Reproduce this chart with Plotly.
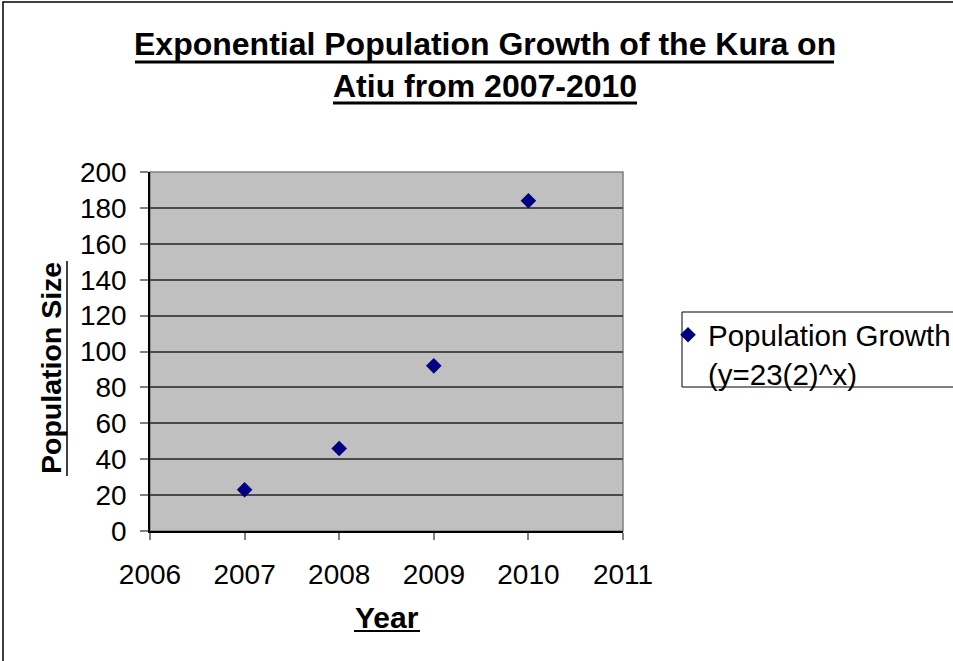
import plotly.graph_objects as go

# ---- data ----
years = [2007, 2008, 2009, 2010]
population = [23, 46, 92, 184]
series_name = "Population Growth<br>(y=23(2)^x)"
title_line1 = "Exponential Population Growth of the Kura on"
title_line2 = "Atiu from 2007-2010"
x_title = "Year"
y_title = "Population Size"

W, H = 953, 661
L, R, T, B = 150, 623, 172, 531  # plot area in pixels


def px(x):
    return (x - L) / (R - L)


def py(y):
    return (B - y) / (B - T)


fig = go.Figure()
fig.add_trace(go.Scatter(
    x=years, y=population, mode="markers", name=series_name,
    marker=dict(symbol="diamond", size=12, color="#000080"),
    showlegend=True,
))

font = "Liberation Sans, Arial, sans-serif"

fig.update_layout(
    width=W, height=H,
    margin=dict(l=L, r=W - R, t=T, b=H - B, pad=0, autoexpand=False),
    paper_bgcolor="white",
    plot_bgcolor="#C0C0C0",
    font=dict(family=font, color="black", size=28),
    showlegend=True,
    legend=dict(
        x=px(668), y=py(309), xanchor="left", yanchor="top",
        font=dict(size=29.5, family=font, color="black"),
        bgcolor="rgba(0,0,0,0)", borderwidth=0, valign="top",
        tracegroupgap=0,
    ),
    xaxis=dict(
        range=[2006, 2011], tick0=2006, dtick=1, tickformat="d",
        showgrid=False, zeroline=False,
        showline=True, linecolor="black", linewidth=1.5,
        ticks="outside", ticklen=7, tickcolor="#808080", tickwidth=1.5,
        tickfont=dict(size=28, family=font, color="black"),
        ticklabelstandoff=11,
    ),
    yaxis=dict(
        range=[0, 200], tick0=0, dtick=20,
        showgrid=True, gridcolor="#4a4a4a", gridwidth=2,
        zeroline=False,
        showline=True, linecolor="black", linewidth=1.5,
        ticks="outside", ticklen=8, tickcolor="#808080", tickwidth=1.5,
        tickfont=dict(size=28, family=font, color="black"),
        ticklabelstandoff=8,
    ),
)

annotations = [
    dict(text="<b>" + title_line1 + "</b>", x=px(485), y=py(44), xref="paper", yref="paper",
         xanchor="center", yanchor="middle", showarrow=False,
         font=dict(size=32, family=font, color="black")),
    dict(text="<b>" + title_line2 + "</b>", x=px(485), y=py(86), xref="paper", yref="paper",
         xanchor="center", yanchor="middle", showarrow=False,
         font=dict(size=32, family=font, color="black")),
    dict(text="<b>" + x_title + "</b>", x=px(387), y=py(617), xref="paper", yref="paper",
         xanchor="center", yanchor="middle", showarrow=False,
         font=dict(size=30, family=font, color="black")),
    dict(text="<b>" + y_title + "</b>", x=px(51), y=py(368), xref="paper", yref="paper",
         xanchor="center", yanchor="middle", showarrow=False, textangle=-90,
         font=dict(size=28.5, family=font, color="black")),
]
fig.update_layout(annotations=annotations)

shapes = [
    # outer chart border (left and top visible)
    dict(type="rect", xref="paper", yref="paper", x0=px(3), y0=py(2), x1=px(1100), y1=py(800),
         line=dict(color="black", width=1.5), fillcolor="rgba(0,0,0,0)", layer="below"),
    # plot area border
    dict(type="rect", xref="paper", yref="paper", x0=0, y0=0, x1=1, y1=1,
         line=dict(color="#808080", width=1.5), fillcolor="rgba(0,0,0,0)", layer="below"),
    # legend border
    dict(type="rect", xref="paper", yref="paper", x0=px(682), y0=py(312), x1=px(1100), y1=py(387),
         line=dict(color="black", width=1), fillcolor="rgba(0,0,0,0)", layer="below"),
    # title underlines
    dict(type="line", xref="paper", yref="paper", x0=px(135), x1=px(834), y0=py(62), y1=py(62),
         line=dict(color="black", width=3)),
    dict(type="line", xref="paper", yref="paper", x0=px(333), x1=px(637), y0=py(103), y1=py(103),
         line=dict(color="black", width=3)),
    # axis title underlines
    dict(type="line", xref="paper", yref="paper", x0=px(354), x1=px(420), y0=py(631), y1=py(631),
         line=dict(color="black", width=2)),
    dict(type="line", xref="paper", yref="paper", x0=px(67), x1=px(67), y0=py(261), y1=py(476),
         line=dict(color="black", width=1.5)),
]
fig.update_layout(shapes=shapes)

fig.write_html("out.html", config={"displayModeBar": False},
               post_script="document.body.style.margin='0';document.body.style.overflow='hidden';")
